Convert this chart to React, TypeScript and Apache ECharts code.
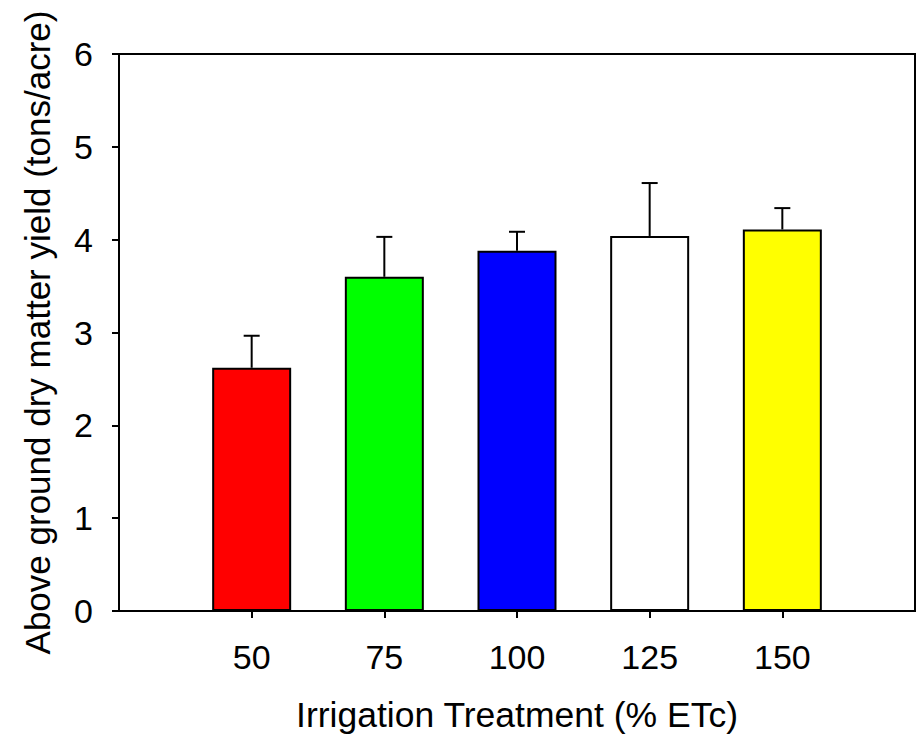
import React, { useEffect, useRef } from "react";
import * as echarts from "echarts";

// Irrigation treatments (% ETc) and mean above-ground dry matter yield
const treatments = [50, 75, 100, 125, 150];
const yieldMeans = [2.62, 3.6, 3.88, 4.04, 4.11];
const yieldErrors = [0.345, 0.43, 0.205, 0.57, 0.23];
const barColors = ["#ff0000", "#00ff00", "#0000ff", "#ffffff", "#ffff00"];
const yTicks = [0, 1, 2, 3, 4, 5, 6];

const FONT = "'Liberation Sans', Arial, sans-serif";

export default function App() {
  const ref = useRef<HTMLDivElement>(null);

  useEffect(() => {
    if (!ref.current) return;
    const chart = echarts.init(ref.current, null, { renderer: "svg" });

    const barData = treatments.map((t, i) => ({
      value: [t, yieldMeans[i]],
      itemStyle: { color: barColors[i], borderColor: "#000", borderWidth: 2 },
    }));
    const errData = treatments.map((t, i) => [t, yieldMeans[i], yieldMeans[i] + yieldErrors[i]]);

    chart.setOption({
      animation: false,
      backgroundColor: "#fff",
      grid: {
        left: 119,
        right: 3,
        top: 54,
        bottom: 124,
        containLabel: false,
        outerBoundsMode: "none",
        show: true,
        borderColor: "#000",
        borderWidth: 2,
        backgroundColor: "transparent",
      },
      xAxis: {
        type: "value",
        min: 25,
        max: 175,
        interval: 25,
        name: "Irrigation Treatment (% ETc)",
        nameLocation: "middle",
        nameGap: 86,
        nameTextStyle: { fontFamily: FONT, fontSize: 35.5, color: "#000", lineHeight: 36 },
        splitLine: { show: false },
        axisLine: { show: true, onZero: false, lineStyle: { color: "#000", width: 2 } },
        axisTick: {
          show: true,
          inside: false,
          length: 7,
          customValues: treatments,
          lineStyle: { color: "#000", width: 2 },
        },
        axisLabel: {
          customValues: treatments,
          margin: 29,
          fontFamily: FONT,
          fontSize: 34,
          color: "#000",
        },
      },
      yAxis: {
        type: "value",
        min: 0,
        max: 6,
        interval: 1,
        name: "Above ground dry matter yield (tons/acre)",
        nameLocation: "middle",
        nameGap: 64,
        nameTextStyle: { fontFamily: FONT, fontSize: 35, color: "#000" },
        splitLine: { show: false },
        axisLine: { show: true, lineStyle: { color: "#000", width: 2 } },
        axisTick: { show: true, inside: false, length: 7, lineStyle: { color: "#000", width: 2 } },
        axisLabel: {
          margin: 26,
          fontFamily: FONT,
          fontSize: 34,
          color: "#000",
          formatter: (v: number) => (yTicks.includes(v) ? String(v) : ""),
        },
      },
      series: [
        {
          type: "bar",
          data: barData,
          barWidth: 79,
          z: 2,
        },
        {
          type: "custom",
          z: 3,
          data: errData,
          renderItem: (params: any, api: any) => {
            const x = api.value(0);
            const top = api.coord([x, api.value(2)]);
            const base = api.coord([x, api.value(1)]);
            const half = 8;
            const style = { stroke: "#000", lineWidth: 2 };
            return {
              type: "group",
              children: [
                { type: "line", shape: { x1: top[0], y1: base[1], x2: top[0], y2: top[1] }, style },
                { type: "line", shape: { x1: top[0] - half, y1: top[1], x2: top[0] + half, y2: top[1] }, style },
              ],
            };
          },
        },
      ],
    });

    return () => chart.dispose();
  }, []);

  return (
    <div
      ref={ref}
      style={{ position: "fixed", left: 0, top: 0, width: 918, height: 735 }}
    />
  );
}
